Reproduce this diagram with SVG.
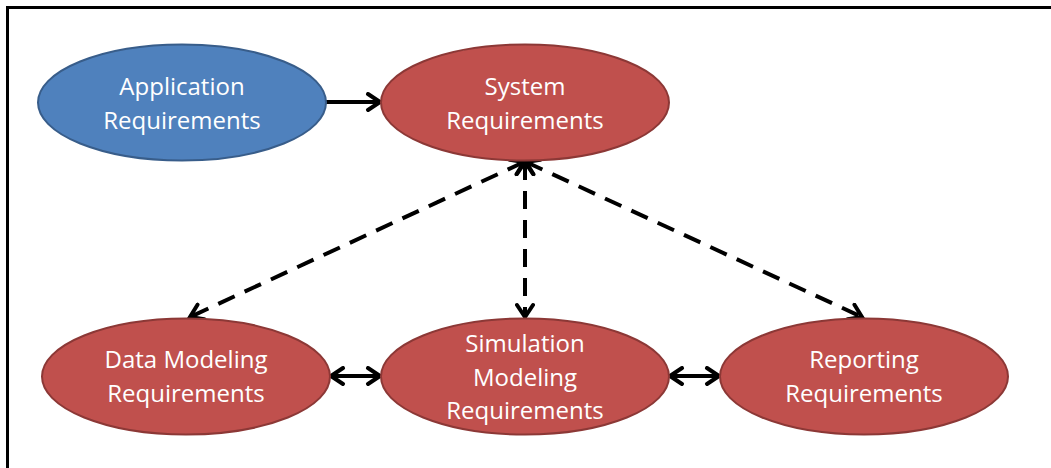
<svg xmlns="http://www.w3.org/2000/svg" width="1051" height="468" viewBox="0 0 1051 468">
  <defs>
    <style>
      .frame { fill: #ffffff; stroke: #000000; stroke-width: 3; }
      .blue { fill: #4F81BD; stroke: #385D8A; stroke-width: 2; }
      .red { fill: #C0504D; stroke: #8C3836; stroke-width: 2; }
      .label { font-family: "Open Sans", "Liberation Sans", sans-serif; font-size: 24px; fill: #ffffff; text-anchor: middle; }
      .solid { stroke: #000000; stroke-width: 4; fill: none; }
      .dashed { stroke: #000000; stroke-width: 4; fill: none; stroke-dasharray: 18 11; }
    </style>
    <marker id="arrowEnd" viewBox="0 0 18 20" refX="15" refY="10" markerWidth="18" markerHeight="20" markerUnits="userSpaceOnUse" orient="auto">
      <path d="M3,2 L15,10 L3,18" fill="none" stroke="#000000" stroke-width="4" stroke-linecap="round" stroke-linejoin="miter"/>
    </marker>
    <marker id="arrowStart" viewBox="0 0 18 20" refX="3" refY="10" markerWidth="18" markerHeight="20" markerUnits="userSpaceOnUse" orient="auto">
      <path d="M15,2 L3,10 L15,18" fill="none" stroke="#000000" stroke-width="4" stroke-linecap="round" stroke-linejoin="miter"/>
    </marker>
  </defs>

  <!-- outer frame (right and bottom edges run past the canvas) -->
  <rect class="frame" x="7.5" y="7.5" width="1100" height="520"/>

  <!-- connectors -->
  <g id="connectors">
    <line class="solid" x1="326" y1="102" x2="380" y2="102" marker-end="url(#arrowEnd)"/>
    <line class="dashed" x1="524" y1="162" x2="190" y2="317" marker-start="url(#arrowStart)" marker-end="url(#arrowEnd)"/>
    <line class="dashed" x1="525" y1="162" x2="525" y2="317" marker-start="url(#arrowStart)" marker-end="url(#arrowEnd)"/>
    <line class="dashed" x1="526" y1="162" x2="862" y2="317" marker-start="url(#arrowStart)" marker-end="url(#arrowEnd)"/>
    <line class="solid" x1="331" y1="376" x2="380" y2="376" marker-start="url(#arrowStart)" marker-end="url(#arrowEnd)"/>
    <line class="solid" x1="670" y1="376" x2="719" y2="376" marker-start="url(#arrowStart)" marker-end="url(#arrowEnd)"/>
  </g>

  <g id="application">
    <ellipse class="blue" cx="182" cy="102.5" rx="144" ry="58"/>
    <text class="label" x="182" y="95">Application</text>
    <text class="label" x="182" y="129">Requirements</text>
  </g>

  <g id="system">
    <ellipse class="red" cx="525" cy="102.5" rx="144" ry="58"/>
    <text class="label" x="525" y="95">System</text>
    <text class="label" x="525" y="129">Requirements</text>
  </g>

  <g id="data-modeling">
    <ellipse class="red" cx="186" cy="376.5" rx="144" ry="58"/>
    <text class="label" x="186" y="368">Data Modeling</text>
    <text class="label" x="186" y="402">Requirements</text>
  </g>

  <g id="simulation-modeling">
    <ellipse class="red" cx="525" cy="376.5" rx="144" ry="58"/>
    <text class="label" x="525" y="352">Simulation</text>
    <text class="label" x="525" y="386">Modeling</text>
    <text class="label" x="525" y="419">Requirements</text>
  </g>

  <g id="reporting">
    <ellipse class="red" cx="864" cy="376.5" rx="144" ry="58"/>
    <text class="label" x="864" y="368">Reporting</text>
    <text class="label" x="864" y="402">Requirements</text>
  </g>
</svg>
